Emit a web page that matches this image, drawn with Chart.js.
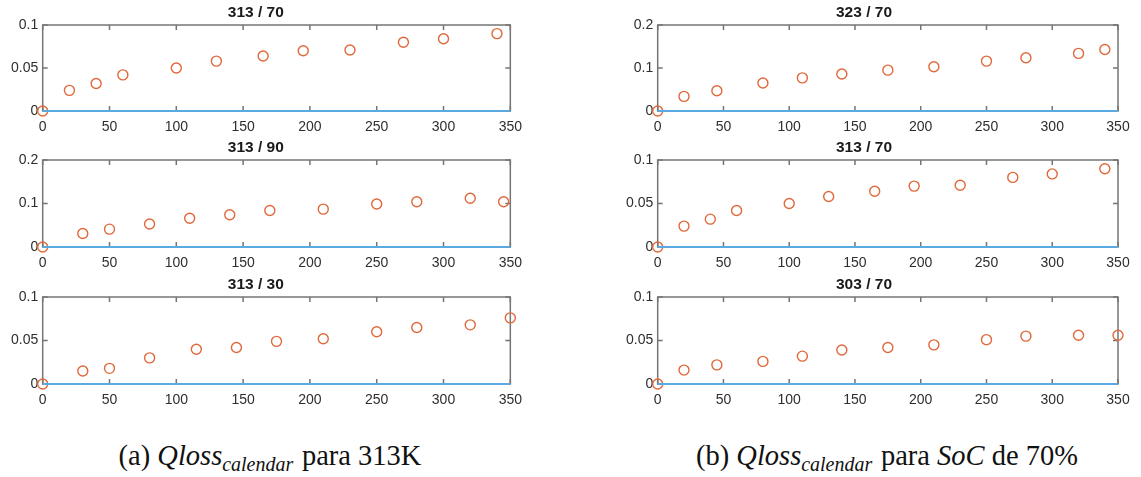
<!DOCTYPE html>
<html>
<head>
<meta charset="utf-8">
<script src="https://cdn.jsdelivr.net/npm/chart.js@4.4.1/dist/chart.umd.min.js"></script>
<style>
  body { margin: 0; background: #fff; width: 1141px; height: 477px; position: relative; overflow: hidden; }
  canvas { position: absolute; }
  .caption { position: absolute; top: 440px; font-family: "Liberation Serif", serif; font-size: 28.5px; color: #111; text-align: center; white-space: nowrap; }
  .caption sub { font-size: 0.7em; vertical-align: -0.3em; line-height: 0; }
</style>
</head>
<body>
<div class="caption" style="left:70px; width:400px">(a) <i>Qloss<sub>calendar&#8202;</sub></i> para 313K</div>
<div class="caption" style="left:687px; width:400px">(b) <i>Qloss<sub>calendar&#8202;</sub></i> para <i>SoC</i> de 70%</div>
<script>
// tick labels shared by every subplot
const xTicks = [0, 50, 100, 150, 200, 250, 300, 350];
const yTicksSmall = [0, 0.05, 0.1];
const yTicksLarge = [0, 0.1, 0.2];

// measured capacity loss (days, Qloss) per temperature / SoC
const days313_70 = [0, 20, 40, 60, 100, 130, 165, 195, 230, 270, 300, 340];
const qloss313_70 = [0, 0.024, 0.032, 0.042, 0.050, 0.058, 0.064, 0.070, 0.071, 0.080, 0.084, 0.090];

const days313_90 = [0, 30, 50, 80, 110, 140, 170, 210, 250, 280, 320, 345];
const qloss313_90 = [0, 0.031, 0.041, 0.053, 0.066, 0.074, 0.084, 0.087, 0.099, 0.104, 0.112, 0.104];

const days313_30 = [0, 30, 50, 80, 115, 145, 175, 210, 250, 280, 320, 350];
const qloss313_30 = [0, 0.015, 0.018, 0.030, 0.040, 0.042, 0.049, 0.052, 0.060, 0.065, 0.068, 0.076];

const days323_70 = [0, 20, 45, 80, 110, 140, 175, 210, 250, 280, 320, 340];
const qloss323_70 = [0, 0.034, 0.047, 0.065, 0.077, 0.086, 0.095, 0.103, 0.116, 0.124, 0.134, 0.143];

const days303_70 = [0, 20, 45, 80, 110, 140, 175, 210, 250, 280, 320, 350];
const qloss303_70 = [0, 0.016, 0.022, 0.026, 0.032, 0.039, 0.042, 0.045, 0.051, 0.055, 0.056, 0.056];

// fitted model curve (stays flat at zero)
const modelDays = [0, 350];
const modelQloss = [0, 0];

const toPoints = (xs, ys) => xs.map((x, i) => ({ x, y: ys[i] }));

// matlab-like box with inward ticks on all four sides
const axesBox = {
  id: 'axesBox',
  beforeDatasetsDraw(chart) {
    const { ctx, chartArea: a, scales } = chart;
    ctx.save();
    ctx.strokeStyle = '#757575';
    ctx.lineWidth = 1.5;
    ctx.strokeRect(a.left, a.top, a.right - a.left, a.bottom - a.top);
    ctx.beginPath();
    scales.x.ticks.forEach(t => {
      const px = scales.x.getPixelForValue(t.value);
      ctx.moveTo(px, a.bottom); ctx.lineTo(px, a.bottom - 5);
      ctx.moveTo(px, a.top); ctx.lineTo(px, a.top + 5);
    });
    scales.y.ticks.forEach(t => {
      const py = scales.y.getPixelForValue(t.value);
      ctx.moveTo(a.left, py); ctx.lineTo(a.left + 5, py);
      ctx.moveTo(a.right, py); ctx.lineTo(a.right - 5, py);
    });
    ctx.stroke();
    ctx.restore();
  }
};

const tickFont = { family: 'Liberation Sans', size: 14 };

function makePanel(p) {
  const canvas = document.createElement('canvas');
  canvas.width = p.width;
  canvas.height = p.bottom - p.top + 49;
  canvas.style.left = p.left + 'px';
  canvas.style.top = (p.top - 25) + 'px';
  document.body.appendChild(canvas);

  const model = toPoints(modelDays, modelQloss);
  new Chart(canvas, {
    type: 'scatter',
    data: {
      datasets: [
        { type: 'line', data: model, borderColor: '#5aa9e0', borderWidth: 2.2, pointRadius: 0, clip: false },
        { type: 'line', data: model, borderColor: '#7a7a7a', borderWidth: 1.5, borderDash: [5, 4], pointRadius: 0, clip: false },
        {
          data: toPoints(p.days, p.qloss),
          pointRadius: 5,
          pointBorderWidth: 1.4,
          pointBorderColor: '#e0683a',
          pointBackgroundColor: 'rgba(0,0,0,0)',
          clip: false
        }
      ]
    },
    options: {
      responsive: false,
      animation: false,
      events: [],
      layout: { padding: { left: 0, right: p.padRight, top: 0, bottom: 0 } },
      plugins: {
        legend: { display: false },
        tooltip: { enabled: false },
        title: {
          display: true,
          text: p.title,
          color: '#1a1a1a',
          font: { family: 'Liberation Sans', size: 15.5, weight: 'bold' },
          padding: { top: 3.5, bottom: 2.9 }
        }
      },
      scales: {
        x: {
          type: 'linear', min: 0, max: 350,
          afterBuildTicks: s => { s.ticks = xTicks.map(v => ({ value: v })); },
          afterFit: s => { s.height = 24; },
          grid: { display: false, drawTicks: false },
          border: { display: false },
          ticks: { font: tickFont, color: '#2e2e2e', padding: 8, maxRotation: 0 }
        },
        y: {
          type: 'linear', min: p.yTicks[0], max: p.yTicks[p.yTicks.length - 1],
          afterBuildTicks: s => { s.ticks = p.yTicks.map(v => ({ value: v })); },
          afterFit: s => { s.width = p.axisLeft; },
          grid: { display: false, drawTicks: false },
          border: { display: false },
          ticks: { font: tickFont, color: '#2e2e2e', padding: 4.5, callback: v => String(v) }
        }
      }
    },
    plugins: [axesBox]
  });
}

const leftCol = { left: 0, width: 530, axisLeft: 42.7, padRight: 18.3 };
const rightCol = { left: 610, width: 531, axisLeft: 47.7, padRight: 23 };
const rows = [{ top: 25, bottom: 111 }, { top: 160, bottom: 247 }, { top: 297, bottom: 384 }];

makePanel({ ...leftCol, ...rows[0], title: '313 / 70', days: days313_70, qloss: qloss313_70, yTicks: yTicksSmall });
makePanel({ ...leftCol, ...rows[1], title: '313 / 90', days: days313_90, qloss: qloss313_90, yTicks: yTicksLarge });
makePanel({ ...leftCol, ...rows[2], title: '313 / 30', days: days313_30, qloss: qloss313_30, yTicks: yTicksSmall });
makePanel({ ...rightCol, ...rows[0], title: '323 / 70', days: days323_70, qloss: qloss323_70, yTicks: yTicksLarge });
makePanel({ ...rightCol, ...rows[1], title: '313 / 70', days: days313_70, qloss: qloss313_70, yTicks: yTicksSmall });
makePanel({ ...rightCol, ...rows[2], title: '303 / 70', days: days303_70, qloss: qloss303_70, yTicks: yTicksSmall });
</script>
</body>
</html>
